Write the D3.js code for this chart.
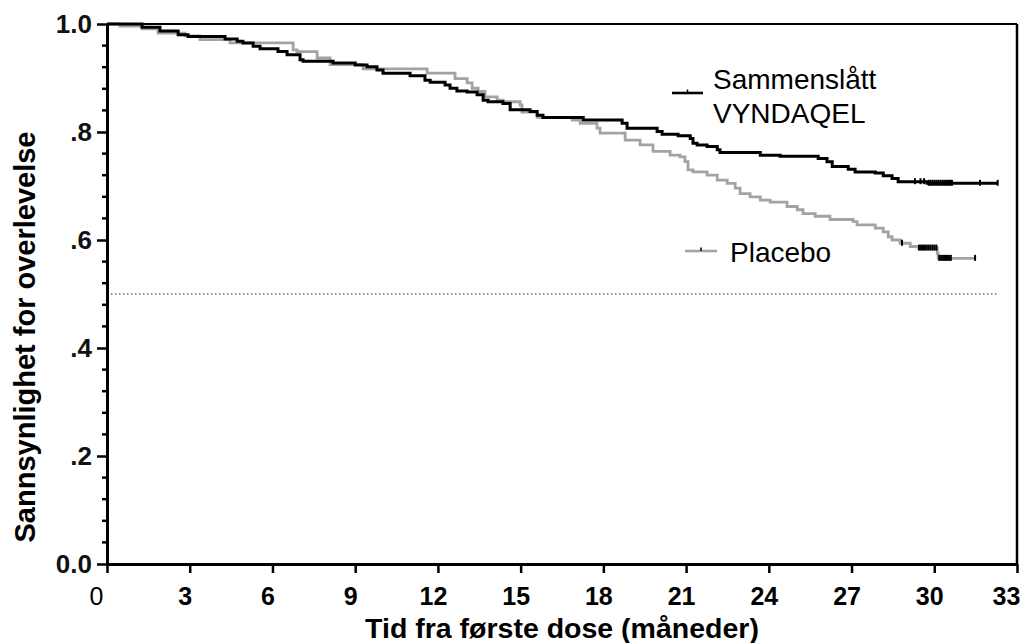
<!DOCTYPE html>
<html lang="no">
<head>
<meta charset="UTF-8">
<title>Kaplan-Meier</title>
<style>
  body { margin: 0; background: #fff; }
  text { font-family: "Liberation Sans", Arial, sans-serif; }
</style>
</head>
<body>
<svg width="1027" height="643"></svg>
<script src="https://d3js.org/d3.v7.min.js"></script>
<script>
// Sammenslått VYNDAQEL: step times (months) and survival after each step
const vyndaqelMonths = [
  0, 1.27, 1.92, 2.58, 2.94, 4.28, 4.72, 4.93, 5.30, 5.55,
  6.20, 6.53, 7.00, 7.11, 8.20, 9.00, 9.43, 9.79, 10.01, 10.99,
  11.53, 11.72, 12.26, 12.44, 12.69, 13.06, 13.42, 13.64, 13.82, 14.36,
  14.62, 15.34, 15.60, 15.81, 17.27, 18.68, 18.86, 19.95, 20.13, 20.71,
  21.15, 21.25, 21.40, 21.76, 22.13, 22.23, 23.69, 24.41, 25.79, 26.11,
  26.30, 26.88, 27.13, 27.86, 28.15, 28.47, 28.69, 29.74, 32.3
];
const vyndaqelSurvival = [
  1.0, 0.994, 0.987, 0.980, 0.977, 0.972, 0.968, 0.965, 0.959, 0.954,
  0.949, 0.943, 0.934, 0.931, 0.928, 0.924, 0.921, 0.915, 0.909, 0.904,
  0.896, 0.892, 0.887, 0.881, 0.876, 0.874, 0.869, 0.859, 0.856, 0.853,
  0.841, 0.838, 0.831, 0.827, 0.822, 0.816, 0.807, 0.801, 0.796, 0.793,
  0.788, 0.779, 0.776, 0.773, 0.767, 0.762, 0.757, 0.755, 0.751, 0.745,
  0.736, 0.731, 0.726, 0.724, 0.719, 0.714, 0.708, 0.705, 0.705
];
const vyndaqelCensored = [
  29.30, 29.50, 29.63, 29.80, 29.87, 29.94, 30.01, 30.08, 30.15, 30.22,
  30.29, 30.36, 30.43, 30.50, 30.57, 30.64, 31.66, 32.30
];

// Placebo
const placeboMonths = [
  0, 0.47, 1.27, 1.85, 2.83, 3.37, 4.46, 6.75, 6.89, 7.62,
  8.09, 9.29, 11.61, 12.62, 13.06, 13.24, 13.46, 13.71, 14.15, 14.36,
  14.98, 15.05, 15.60, 16.87, 17.16, 17.77, 17.88, 18.79, 19.33, 19.80,
  20.42, 20.78, 20.96, 21.07, 21.25, 21.76, 22.13, 22.49, 22.78, 22.96,
  23.32, 23.69, 24.05, 24.66, 25.03, 25.24, 25.68, 26.22, 27.06, 27.20,
  27.86, 28.15, 28.33, 28.47, 28.76, 29.13, 29.42, 30.11, 30.14, 31.48
];
const placeboSurvival = [
  1.0, 0.996, 0.991, 0.983, 0.978, 0.971, 0.965, 0.952, 0.949, 0.937,
  0.925, 0.917, 0.909, 0.899, 0.891, 0.881, 0.875, 0.865, 0.859, 0.856,
  0.850, 0.837, 0.827, 0.822, 0.816, 0.807, 0.798, 0.785, 0.776, 0.764,
  0.757, 0.754, 0.745, 0.730, 0.726, 0.720, 0.711, 0.705, 0.696, 0.686,
  0.680, 0.674, 0.670, 0.662, 0.656, 0.649, 0.644, 0.638, 0.634, 0.628,
  0.622, 0.615, 0.606, 0.600, 0.594, 0.588, 0.585, 0.575, 0.566, 0.566
];
const placeboCensored = [
  28.83, 29.45, 29.52, 29.59, 29.66, 29.73, 29.80, 29.87, 29.94, 30.01,
  30.08, 30.18, 30.25, 30.32, 30.39, 30.46, 30.53, 30.60, 31.48
];

const xTickValues = [0, 3, 6, 9, 12, 15, 18, 21, 24, 27, 30, 33];
const yTickValues = [0, 0.2, 0.4, 0.6, 0.8, 1.0];
const yTickLabels = ["0.0", ".2", ".4", ".6", ".8", "1.0"];
const medianLine = 0.5;
const medianEnd = 32.3;

const svg = d3.select("svg");
const margin = { left: 107, top: 24, right: 10, bottom: 79 };
const plotW = 910, plotH = 540;
const grey = "#a3a3a3";

const x = d3.scaleLinear().domain([0, 33]).range([0, plotW]);
const y = d3.scaleLinear().domain([0, 1]).range([plotH, 0]);

const g = svg.append("g").attr("transform", `translate(${margin.left},${margin.top})`);

// dotted 50% line
g.append("line")
  .attr("x1", x(0)).attr("x2", x(medianEnd))
  .attr("y1", y(medianLine)).attr("y2", y(medianLine))
  .attr("stroke", "#222").attr("stroke-width", 1.2)
  .attr("stroke-dasharray", "1.5,2.5");

// frame top / right
g.append("line").attr("x1", 0).attr("x2", plotW).attr("y1", 0).attr("y2", 0)
  .attr("stroke", "#000").attr("stroke-width", 2);
g.append("line").attr("x1", plotW).attr("x2", plotW).attr("y1", 0).attr("y2", plotH)
  .attr("stroke", "#000").attr("stroke-width", 2.5);

// curves
const zip = (ts, ss) => ts.map((t, i) => [t, ss[i]]);
const line = d3.line().x(d => x(d[0])).y(d => y(d[1])).curve(d3.curveStepAfter);
const bis = d3.bisector(d => d).right;
const survAt = (ts, ss, t) => ss[Math.max(0, bis(ts, t) - 1)];

function drawCurve(ts, ss, cens, color, w) {
  g.append("path")
    .datum(zip(ts, ss))
    .attr("d", line)
    .attr("fill", "none")
    .attr("stroke", color)
    .attr("stroke-width", w);
  g.selectAll(null)
    .data(cens)
    .enter()
    .append("line")
    .attr("x1", d => x(d)).attr("x2", d => x(d))
    .attr("y1", d => y(survAt(ts, ss, d)) - 3.5)
    .attr("y2", d => y(survAt(ts, ss, d)) + 2.5)
    .attr("stroke", "#000")
    .attr("stroke-width", 2);
}
drawCurve(placeboMonths, placeboSurvival, placeboCensored, grey, 2.8);
drawCurve(vyndaqelMonths, vyndaqelSurvival, vyndaqelCensored, "#000", 3);

// y axis
const yAxis = g.append("g")
  .call(d3.axisLeft(y).tickValues(yTickValues).tickSize(10).tickSizeOuter(0).tickPadding(5)
    .tickFormat((d, i) => yTickLabels[i]));
yAxis.select(".domain").attr("stroke-width", 3);
yAxis.selectAll(".tick line").attr("stroke-width", 2.5);
yAxis.selectAll("text")
  .attr("font-size", 26).attr("font-weight", "bold")
  .attr("font-family", "Liberation Sans, Arial, sans-serif")
  .attr("fill", "#111");

g.append("g")
  .selectAll("line")
  .data(d3.range(0.04, 1, 0.04).filter(v => Math.abs(v * 5 - Math.round(v * 5)) > 1e-6))
  .enter()
  .append("line")
  .attr("x1", -5).attr("x2", 0)
  .attr("y1", d => y(d)).attr("y2", d => y(d))
  .attr("stroke", "#000").attr("stroke-width", 2.5);

// x axis
const xAxis = g.append("g")
  .attr("transform", `translate(0,${plotH})`)
  .call(d3.axisBottom(x).tickValues(xTickValues).tickSize(9).tickSizeOuter(0));
xAxis.select(".domain").attr("stroke-width", 3);
xAxis.selectAll(".tick line").attr("stroke-width", 2.5);
xAxis.selectAll("text")
  .attr("y", 41).attr("dy", 0)
  .attr("font-size", 25)
  .attr("font-weight", d => d === 0 ? "normal" : "bold")
  .attr("font-family", "Liberation Sans, Arial, sans-serif")
  .attr("fill", "#000")
  .attr("dx", d => d === 0 ? -11 : d === 33 ? -11 : -5);

// axis titles
svg.append("text")
  .attr("x", 562).attr("y", 638)
  .attr("text-anchor", "middle")
  .attr("font-size", 28.5).attr("font-weight", "bold")
  .text("Tid fra første dose (måneder)");

svg.append("text")
  .attr("transform", "translate(35,337) rotate(-90)")
  .attr("text-anchor", "middle")
  .attr("font-size", 29).attr("font-weight", "bold")
  .text("Sannsynlighet for overlevelse");

// legend
const legend = [
  { lines: ["Sammenslått", "VYNDAQEL"], color: "#000", x1: 672, x2: 703, ly: 93, tx: 713, ty: 89 },
  { lines: ["Placebo"], color: grey, x1: 685, x2: 717, ly: 251, tx: 730, ty: 262 }
];
legend.forEach(l => {
  svg.append("line").attr("x1", l.x1).attr("x2", l.x2).attr("y1", l.ly).attr("y2", l.ly)
    .attr("stroke", l.color).attr("stroke-width", 2.6);
  const mid = (l.x1 + l.x2) / 2;
  svg.append("line").attr("x1", mid).attr("x2", mid).attr("y1", l.ly - 3.5).attr("y2", l.ly)
    .attr("stroke", "#000").attr("stroke-width", 1.5);
  l.lines.forEach((s, i) => {
    svg.append("text")
      .attr("x", l.tx).attr("y", l.ty + i * 34)
      .attr("font-size", 28)
      .attr("fill", "#000")
      .text(s);
  });
});
</script>
</body>
</html>
